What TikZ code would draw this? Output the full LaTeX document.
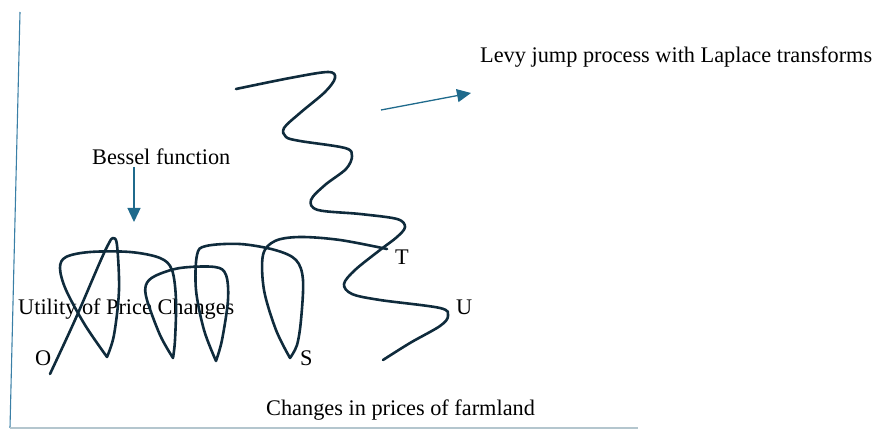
\documentclass[tikz,border=0pt]{standalone}
\usepackage{fontspec}
\setmainfont{Liberation Serif}
\usetikzlibrary{arrows.meta}
\definecolor{curvec}{HTML}{0F2B3C}
\definecolor{arrowc}{HTML}{1F6A8C}
\definecolor{axisv}{HTML}{3A7FA6}
\definecolor{axish}{HTML}{B4C6CE}
\tikzset{
  lbl/.style={inner sep=0pt, anchor=base west, font=\fontsize{22.3}{26}\selectfont, text=black},
  curve/.style={draw=curvec, line width=2.6pt, line cap=round, line join=round},
  pointer/.style={draw=arrowc, line width=1.3pt, -{Triangle[width=13pt,length=14pt]}},
}
\begin{document}
\begin{tikzpicture}[x=1pt,y=-1pt]
\useasboundingbox (0,0) rectangle (886,430);
% axes
\coordinate (ytop) at (20,12);
\coordinate (orig) at (10,428);
\coordinate (xend) at (638,428);
\draw[axisv, line width=1.1pt] (ytop) -- (orig);
\draw[axish, line width=1.1pt] (orig) -- (xend);
% labels
\node[lbl] (levy) at (480,63) {Levy jump process with Laplace transforms};
\node[lbl] (bessel) at (92,165) {Bessel function};
\node[lbl] (util) at (18,315) {Utility of Price Changes};
\node[lbl] (O) at (35,365) {O};
\node[lbl] (S) at (300,365) {S};
\node[lbl] (T) at (395,265) {T};
\node[lbl] (U) at (456,315) {U};
\node[lbl] (xlab) at (266,415) {Changes in prices of farmland};
% arrows
\coordinate (b1) at (134,167);
\coordinate (b2) at (134,222);
\draw[pointer] (b1) -- (b2);
\coordinate (l1) at (381,110);
\coordinate (l2) at (471,93);
\draw[pointer] (l1) -- (l2);
% looping curve
\draw[curve]
  plot[smooth, tension=0.55] coordinates {(50,374) (75,320) (100,262) (109,243) (113,238) (117,245) (119,290) (114,335) (107,357)}
  plot[smooth, tension=0.55] coordinates {(107,357) (85,325) (66,290) (60,268) (66,257) (90,252) (130,252) (160,258) (172,270) (176,300) (175,340) (173,358)}
  plot[smooth, tension=0.55] coordinates {(173,358) (160,335) (147,300) (146,285) (155,276) (180,268) (215,267) (226,275) (228,300) (222,340) (216,361)}
  plot[smooth, tension=0.55] coordinates {(216,361) (204,330) (196,290) (197,255) (206,246) (240,244) (275,250) (296,260) (303,280) (301,320) (297,345) (290,358)}
  plot[smooth, tension=0.55] coordinates {(290,358) (276,330) (264,290) (263,255) (275,241) (300,237) (340,240) (387,249)};
% zigzag curve
\draw[curve]
  plot[smooth, tension=0.55] coordinates {(236,89) (290,78) (328,72) (335,78) (325,92) (300,113) (284,128) (286,137) (300,141) (345,148) (352,156) (346,169) (325,185) (311,200) (318,210) (360,214) (397,219) (405,227) (397,237) (380,250) (355,270) (344,284) (352,294) (380,300) (440,308) (448,316) (440,326) (410,343) (383,360)};
\end{tikzpicture}
\end{document}
